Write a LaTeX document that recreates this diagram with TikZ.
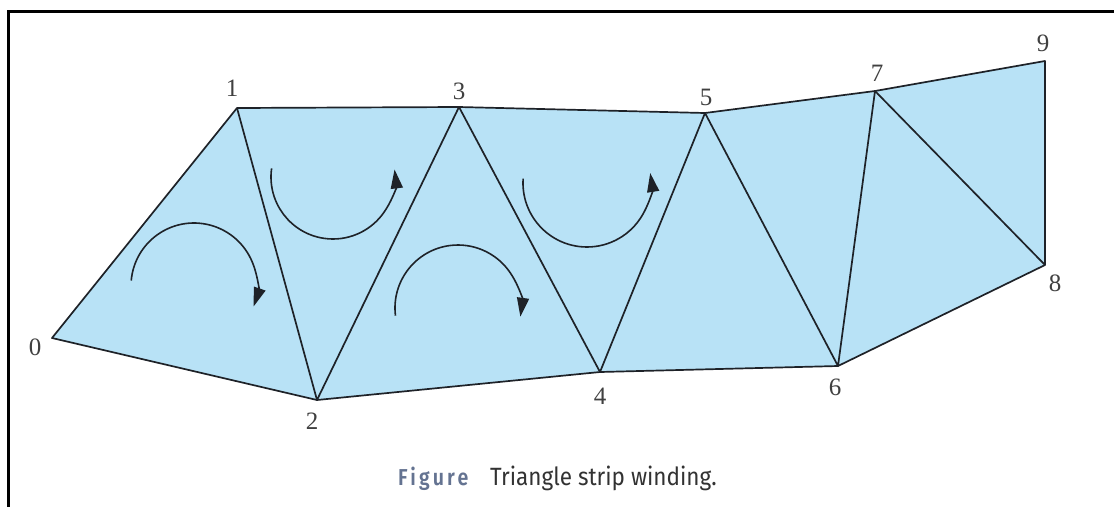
\documentclass[tikz,border=0pt]{standalone}
\usepackage{fontspec}
\setmainfont{Liberation Serif}
\newfontfamily\capfont[FakeStretch=0.9]{Fira Sans}
\newfontfamily\figfont[FakeStretch=0.85,LetterSpace=14]{Fira Sans SemiBold}
\usetikzlibrary{arrows.meta}
\definecolor{stripfill}{RGB}{184,226,246}
\definecolor{edgecol}{RGB}{30,34,40}
\definecolor{figcol}{RGB}{100,115,145}
\definecolor{capcol}{RGB}{50,50,50}
\begin{document}
\begin{tikzpicture}[x=1pt,y=-1pt,
  edge/.style={draw=edgecol,line width=1.7pt,line join=round},
  vlabel/.style={inner sep=0pt,font=\fontsize{25}{25}\selectfont,text=black!75},
  winding/.style={draw=edgecol,line width=1.6pt,-{Triangle[length=19pt,width=12pt]}}]
\useasboundingbox (0,0) rectangle (1114,507);
% border
\draw[line width=3pt,black] (1114,11) -- (8,11) -- (8,507);
% vertices
\coordinate (v0) at (52,338);
\coordinate (v1) at (237,108);
\coordinate (v2) at (317,400);
\coordinate (v3) at (459,107);
\coordinate (v4) at (600,372);
\coordinate (v5) at (705,113);
\coordinate (v6) at (838,366);
\coordinate (v7) at (875,91);
\coordinate (v8) at (1045,265);
\coordinate (v9) at (1045,61);
% fill
\fill[stripfill] (v0) -- (v1) -- (v3) -- (v5) -- (v7) -- (v9) -- (v8) -- (v6) -- (v4) -- (v2) -- cycle;
% edges
\draw[edge] (v0) -- (v1) -- (v3) -- (v5) -- (v7) -- (v9) -- (v8) -- (v6) -- (v4) -- (v2) -- cycle;
\draw[edge] (v1) -- (v2) -- (v3) -- (v4) -- (v5) -- (v6) -- (v7) -- (v8);
% labels
\node[vlabel] (l0) at (35,347) {0};
\node[vlabel] (l1) at (232,88) {1};
\node[vlabel] (l2) at (312,421) {2};
\node[vlabel] (l3) at (459,91) {3};
\node[vlabel] (l4) at (600,396) {4};
\node[vlabel] (l5) at (706,97) {5};
\node[vlabel] (l6) at (835,387) {6};
\node[vlabel] (l7) at (877,73) {7};
\node[vlabel] (l8) at (1055,283) {8};
\node[vlabel] (l9) at (1043,43) {9};
% winding arrows
\draw[winding] (194,286) ++(185:63) arc[start angle=185,end angle=379,radius=63];
\draw[winding] (333,177) ++(188:62) arc[start angle=188,end angle=-7,radius=62];
\draw[winding] (458,308) ++(173:63) arc[start angle=173,end angle=368,radius=63];
\draw[winding] (587,183) ++(184:64) arc[start angle=184,end angle=-9,radius=64];
% caption
\node[inner sep=0pt,anchor=base west,text=figcol,font=\figfont\fontsize{23}{23}\selectfont] (fig) at (398,485) {Figure};
\node[inner sep=0pt,anchor=base west,text=capcol,font=\capfont\fontsize{25}{25}\selectfont] (cap) at (490,485) {Triangle strip winding.};
\end{tikzpicture}
\end{document}
